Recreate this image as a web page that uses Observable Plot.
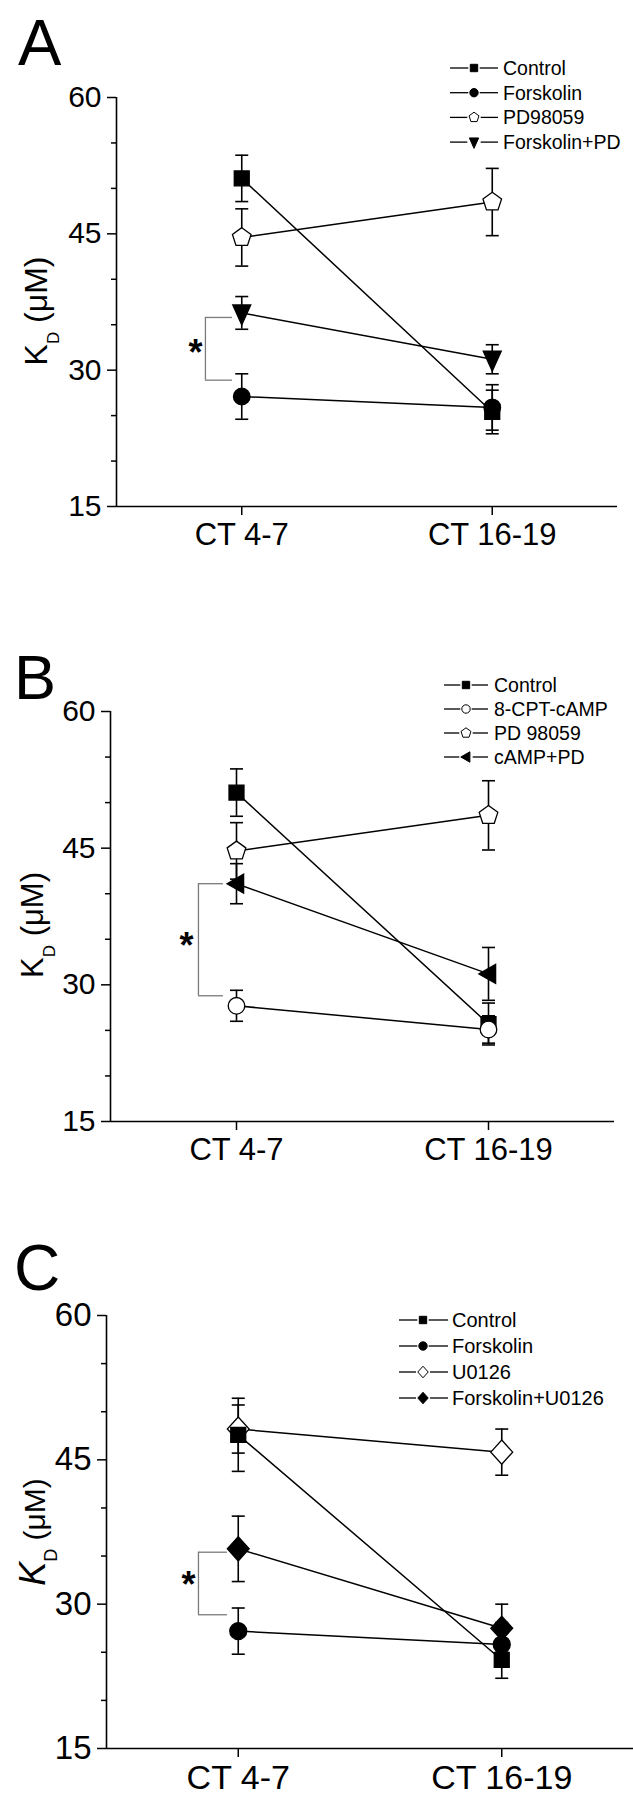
<!DOCTYPE html>
<html><head><meta charset="utf-8">
<script src="https://cdn.jsdelivr.net/npm/d3@7"></script>
<script src="https://cdn.jsdelivr.net/npm/@observablehq/plot@0.6"></script>
<style>
body{margin:0;background:#fff;}
#wrap{position:relative;width:633px;height:1800px;font-family:"Liberation Sans",Arial,sans-serif;}
.panel{position:absolute;left:0;width:633px;height:600px;}
.panel svg{overflow:visible;}
</style></head><body><div id="wrap"></div>
<script>
// ---------- data ----------
const categories = ["CT 4-7", "CT 16-19"];
const catPos = [1, 2];
const yTicks = [15, 30, 45, 60];
const yMinor = [20, 25, 35, 40, 50, 55];

const seriesA = ["Control", "Forskolin", "PD98059", "Forskolin+PD"];
const meanA = [[51.1, 25.4], [27.1, 25.9], [44.6, 48.5], [36.3, 31.2]];
const errA  = [[2.55, 2.4], [2.5, 2.5], [3.15, 3.7], [1.8, 1.6]];

const seriesB = ["Control", "8-CPT-cAMP", "PD 98059", "cAMP+PD"];
const meanB = [[51.1, 25.7], [27.7, 25.1], [44.7, 48.6], [41.1, 31.2]];
const errB  = [[2.6, 2.3], [1.7, 1.5], [3.1, 3.8], [2.2, 2.9]];

const seriesC = ["Control", "Forskolin", "U0126", "Forskolin+U0126"];
const meanC = [[47.6, 24.2], [27.2, 25.8], [48.2, 45.8], [35.75, 27.5]];
const errC  = [[3.8, 1.9], [2.4, 2.3], [2.5, 2.4], [3.4, 2.5]];

// significance brackets (x in category-axis units, y in µM)
const bracketA = {x: 0.855, xEnd: 0.963, y1: 35.8, y2: 28.9, sx: 0.815, sy: 32.9};
const bracketB = {x: 0.849, xEnd: 0.948, y1: 41.1, y2: 28.8, sx: 0.802, sy: 35.3};
const bracketC = {x: 0.849, xEnd: 0.959, y1: 35.4, y2: 28.9, sx: 0.811, sy: 33.0};

// ---------- symbols ----------
const mk = f => ({draw(ctx, size) { f(ctx, Math.sqrt(size / Math.PI)); }});
const poly = (c, pts) => { c.moveTo(pts[0][0], pts[0][1]); for (const p of pts.slice(1)) c.lineTo(p[0], p[1]); c.closePath(); };
const SYM = {
  square: mk((c, r) => { const s = r * 0.88; poly(c, [[-s, -s], [s, -s], [s, s], [-s, s]]); }),
  circle: mk((c, r) => { c.moveTo(r, 0); c.arc(0, 0, r, 0, 2 * Math.PI); }),
  pentagon: mk((c, r) => poly(c, d3.range(5).map(k => { const a = -Math.PI / 2 + k * 2 * Math.PI / 5; return [r * Math.cos(a), r * Math.sin(a)]; }))),
  triDown: mk((c, r) => poly(c, [[-0.9 * r, -0.8 * r], [0.9 * r, -0.8 * r], [0, 1.2 * r]])),
  triLeft: mk((c, r) => poly(c, [[-1.0 * r, 0], [0.75 * r, -r], [0.75 * r, r]])),
  diamond: mk((c, r) => poly(c, [[0, -1.05 * r], [0.95 * r, 0], [0, 1.05 * r], [-0.95 * r, 0]])),
  cap: mk((c, r) => { c.moveTo(-r, 0); c.lineTo(r, 0); })
};

const stylesA = [
  {sym: SYM.square, fill: "black", r: 8.5, lr: 4.2},
  {sym: SYM.circle, fill: "black", r: 8.3, lr: 4.2},
  {sym: SYM.pentagon, fill: "white", r: 9.8, lr: 5.2},
  {sym: SYM.triDown, fill: "black", r: 10, lr: 5.2}
];
const stylesB = [
  {sym: SYM.square, fill: "black", r: 8.5, lr: 4.2},
  {sym: SYM.circle, fill: "white", r: 8.3, lr: 4.2},
  {sym: SYM.pentagon, fill: "white", r: 9.8, lr: 5.2},
  {sym: SYM.triLeft, fill: "black", r: 9.5, lr: 5.2}
];
const stylesC = [
  {sym: SYM.square, fill: "black", r: 8.5, lr: 4.2},
  {sym: SYM.circle, fill: "black", r: 8.5, lr: 4.2},
  {sym: SYM.diamond, fill: "white", r: 11.5, lr: 5.5},
  {sym: SYM.diamond, fill: "black", r: 11.5, lr: 5.5}
];

function drawPanel(o) {
  const pts = [];
  o.series.forEach((s, i) => catPos.forEach((x, j) => pts.push({series: s, i, x, m: o.mean[i][j], e: o.err[i][j]})));
  const b = o.bracket;
  const order = o.reverse ? [3, 2, 1, 0] : [0, 1, 2, 3];
  const marks = [
    Plot.ruleY([15], {strokeWidth: 1.6}),
    Plot.ruleX([0.5], {strokeWidth: 1.6}),
    Plot.axisY(yTicks, {tickSize: 9, tickPadding: 6, fontSize: o.fs, label: null, strokeWidth: 1.5}),
    Plot.axisY(yMinor, {tickSize: 5, tickFormat: () => "", label: null, strokeWidth: 1.5}),
    Plot.axisX(catPos, {tickSize: 9, tickPadding: 7, fontSize: o.xfs, label: null, strokeWidth: 1.5, tickFormat: i => categories[i - 1]}),
    Plot.ruleX([b], {x: "x", y1: "y1", y2: "y2", stroke: "#7a7a7a", strokeWidth: 1.3}),
    Plot.ruleY([b.y1, b.y2], {y: d => d, x1: () => b.x, x2: () => b.xEnd, stroke: "#7a7a7a", strokeWidth: 1.3}),
    Plot.text([b], {x: "sx", y: "sy", text: () => "*", fontSize: 36, fontWeight: "bold", dy: 10}),
    Plot.line(pts, {x: "x", y: "m", z: "series", stroke: "black", strokeWidth: 1.5}),
    Plot.ruleX(pts, {x: "x", y1: d => d.m - d.e, y2: d => d.m + d.e, stroke: "black", strokeWidth: 1.6}),
    Plot.dot(pts, {x: "x", y: d => d.m + d.e, symbol: SYM.cap, r: 6.5, stroke: "black", fill: "none", strokeWidth: 1.6}),
    Plot.dot(pts, {x: "x", y: d => d.m - d.e, symbol: SYM.cap, r: 6.5, stroke: "black", fill: "none", strokeWidth: 1.6}),
    ...order.map(i => { const st = o.styles[i];
      return Plot.dot(pts.filter(d => d.i === i), {x: "x", y: "m", symbol: st.sym, r: st.r, fill: st.fill, stroke: "black", strokeWidth: 1.3}); })
  ];
  const svg = Plot.plot({
    width: 633, height: 600,
    marginLeft: o.mL, marginRight: o.mR, marginTop: o.mT, marginBottom: o.mB,
    x: {domain: [0.5, 2.5]},
    y: {domain: [15, 60]},
    style: {fontFamily: '"Liberation Sans", Arial, sans-serif', background: "transparent", color: "black"},
    marks
  });
  const div = document.createElement("div");
  div.className = "panel";
  div.style.top = o.top + "px";
  div.appendChild(svg);
  document.getElementById("wrap").appendChild(div);

  const g = d3.select(svg);
  // panel letter
  g.append("text").attr("x", o.letter.x).attr("y", o.letter.y).attr("text-anchor", "start")
    .style("font-size", o.letter.fs + "px").text(o.letter.t);
  // y label
  const yl = o.ylab;
  const t = g.append("text").attr("transform", `translate(${yl.x},${yl.y}) rotate(-90)`).attr("text-anchor", "middle");
  t.append("tspan").style("font-size", yl.kfs + "px").style("font-style", yl.italic ? "italic" : "normal").text("K");
  t.append("tspan").attr("dy", yl.sub).style("font-size", yl.dfs + "px").text("D");
  t.append("tspan").attr("dy", -yl.sub).style("font-size", yl.fs + "px").text(" (μM)");
  // legend
  const L = o.legend;
  o.series.forEach((s, i) => {
    const y = L.y0 + i * L.dy;
    const st = o.styles[i];
    g.append("line").attr("x1", L.x0).attr("x2", L.xm - st.lr - 1.5).attr("y1", y).attr("y2", y).attr("stroke", "black").attr("stroke-width", 1.3);
    g.append("line").attr("x1", L.xm + st.lr + 1.5).attr("x2", L.x1).attr("y1", y).attr("y2", y).attr("stroke", "black").attr("stroke-width", 1.3);
    g.append("path").attr("d", d3.symbol(st.sym, Math.PI * st.lr * st.lr)()).attr("transform", `translate(${L.xm},${y})`)
      .attr("fill", st.fill).attr("stroke", "black").attr("stroke-width", 1);
    g.append("text").attr("x", L.xt).attr("y", y).attr("dy", "0.36em").attr("text-anchor", "start")
      .style("font-size", L.fs + "px").text(s);
  });
}

drawPanel({top: 0, mL: 116, mR: 16, mT: 97, mB: 94, fs: 30, xfs: 31,
  series: seriesA, mean: meanA, err: errA, styles: stylesA, bracket: bracketA,
  letter: {t: "A", x: 18, y: 65, fs: 65},
  ylab: {x: 47, y: 311, kfs: 32, dfs: 17, fs: 32, sub: 12, italic: false},
  legend: {x0: 450, xm: 474, x1: 498, xt: 503, y0: 68, dy: 24.7, fs: 19.5}});

drawPanel({top: 600, mL: 110, mR: 19, mT: 111, mB: 79, fs: 30, xfs: 31,
  series: seriesB, mean: meanB, err: errB, styles: stylesB, bracket: bracketB,
  letter: {t: "B", x: 14, y: 99, fs: 63},
  ylab: {x: 43, y: 325, kfs: 31, dfs: 17, fs: 31, sub: 12, italic: false},
  legend: {x0: 444, xm: 466, x1: 488, xt: 494, y0: 85, dy: 24, fs: 19.5}});

drawPanel({top: 1200, mL: 106, mR: 0, mT: 115, mB: 52, fs: 33, xfs: 34, reverse: true,
  series: seriesC, mean: meanC, err: errC, styles: stylesC, bracket: bracketC,
  letter: {t: "C", x: 14, y: 90, fs: 64},
  ylab: {x: 45, y: 332, kfs: 36, dfs: 18, fs: 30, sub: 12, italic: true},
  legend: {x0: 399, xm: 423, x1: 448, xt: 452, y0: 120, dy: 26, fs: 20}});
</script></body></html>
